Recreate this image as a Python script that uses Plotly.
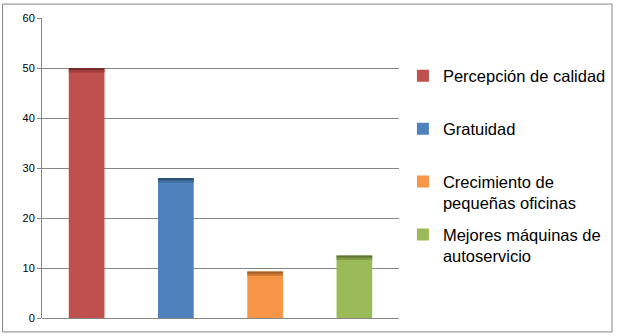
import plotly.graph_objects as go

categories = ["Percepción de calidad<br>&nbsp;", "Gratuidad<br>&nbsp;", "Crecimiento de<br>pequeñas oficinas", "Mejores máquinas de<br>autoservicio"]
values = [50, 28, 9.3, 12.5]
colors = ["#C0504D", "#4F81BD", "#F79646", "#9BBB59"]
mid_colors = ["#A03F3C", "#3F6A9E", "#D07A37", "#819C48"]
dark_colors = ["#7A2D2B", "#2D4F7C", "#A35E28", "#5E7432"]
y_ticks = [0, 10, 20, 30, 40, 50, 60]
band = 0.45

fig = go.Figure()
for i, (name, v, c, mc, dc) in enumerate(zip(categories, values, colors, mid_colors, dark_colors)):
    fig.add_trace(go.Bar(
        x=[i], y=[v], name=name, marker=dict(color=c, line=dict(width=0)),
        legendgroup=f"g{i}", width=0.4, showlegend=True,
    ))
    fig.add_trace(go.Bar(
        x=[i], y=[band], base=[v - 2 * band], marker=dict(color=mc, line=dict(width=0)),
        legendgroup=f"g{i}", width=0.4, showlegend=False, hoverinfo="skip",
    ))
    fig.add_trace(go.Bar(
        x=[i], y=[band], base=[v - band], marker=dict(color=dc, line=dict(width=0)),
        legendgroup=f"g{i}", width=0.4, showlegend=False, hoverinfo="skip",
    ))

fig.update_layout(
    width=623, height=336,
    margin=dict(l=42, r=219, t=16, b=18),
    plot_bgcolor="white", paper_bgcolor="white",
    barmode="overlay",
    showlegend=True,
    legend=dict(
        x=1.011, y=0.865, xanchor="left", yanchor="top",
        font=dict(family="Liberation Sans, Arial", size=16.5, color="#000000"),
        traceorder="grouped", tracegroupgap=7, valign="top",
        itemwidth=30, bgcolor="rgba(0,0,0,0)",
    ),
    xaxis=dict(
        range=[-0.5, 3.5], showticklabels=False, showgrid=False,
        zeroline=False, showline=False, fixedrange=True,
    ),
    yaxis=dict(
        range=[0, 60], tickvals=y_ticks, ticktext=[str(t) for t in y_ticks],
        showgrid=True, gridcolor="#868686", gridwidth=1,
        showline=True, linecolor="#868686", linewidth=1,
        ticks="outside", ticklen=4, tickcolor="#868686",
        zeroline=True, zerolinecolor="#868686", zerolinewidth=1,
        tickfont=dict(family="Liberation Sans, Arial", size=11, color="#000000"),
    ),
    shapes=[dict(
        type="rect", xref="paper", yref="paper",
        x0=(2 - 42) / 362, x1=(620 - 42) / 362,
        y0=-(332 - 318) / 302, y1=1 + (16 - 2) / 302,
        line=dict(color="#868686", width=1), fillcolor="rgba(0,0,0,0)", layer="below",
    )],
)

fig.write_html("out.html")
